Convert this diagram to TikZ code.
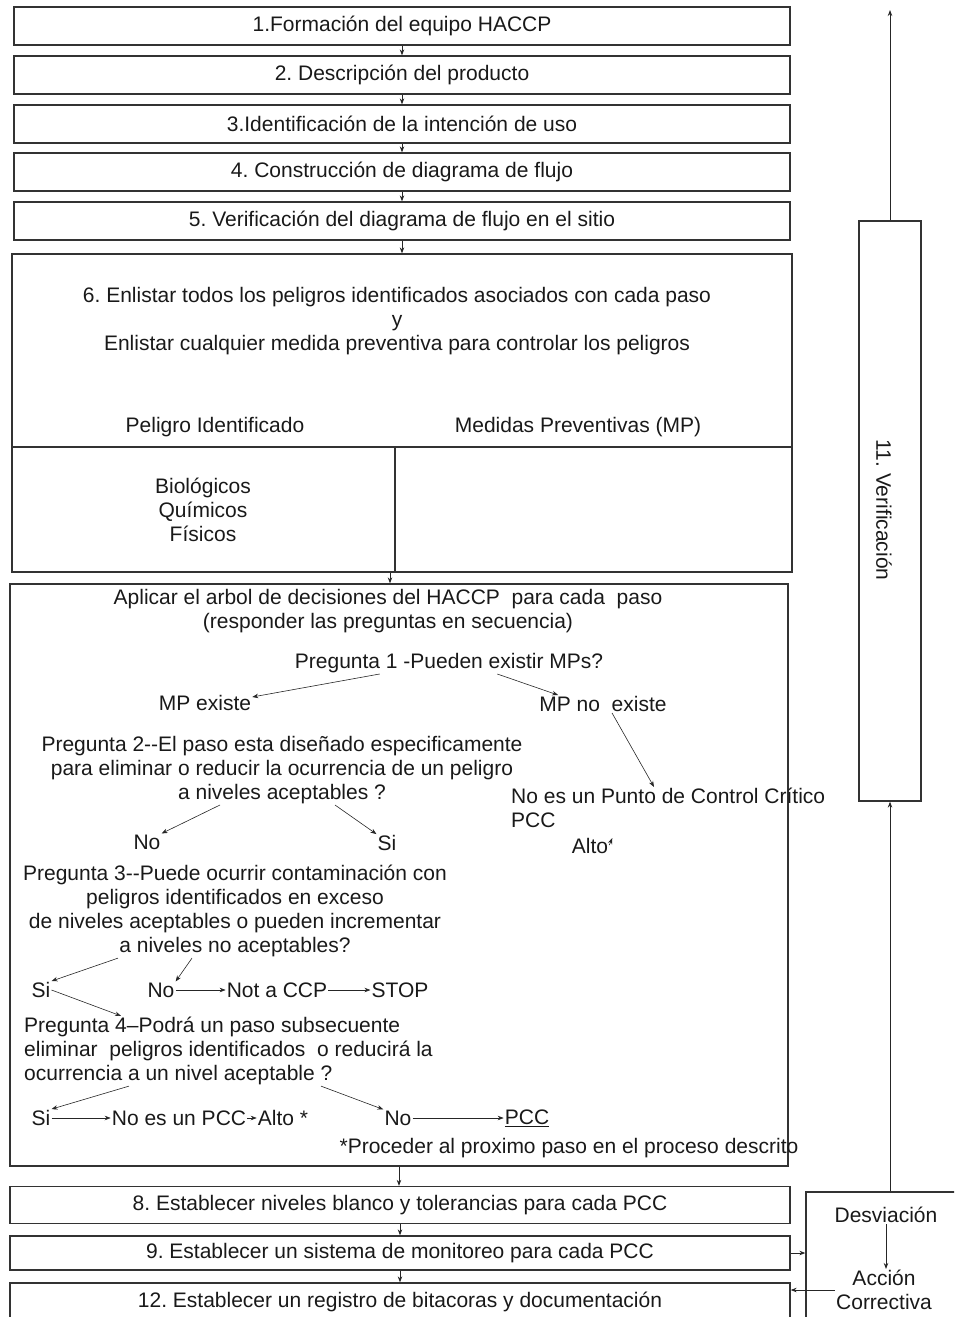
\documentclass[tikz,border=0pt]{standalone}
\usepackage{fontspec}
\setmainfont{Liberation Sans}
\usetikzlibrary{arrows.meta}
\frenchspacing

\begin{document}
\begin{tikzpicture}[x=1pt,y=-1pt]
    % Define styles
    \tikzstyle{stepbox}=[draw=black!80,line width=1.3pt,minimum width=776pt,minimum height=38pt,inner sep=0pt,text=black!90,font=\fontsize{21}{24}\selectfont]
    \tikzstyle{bigbox}=[draw=black!80,line width=1.3pt,inner sep=0pt]
    \tikzstyle{treetext}=[inner sep=1pt,text=black!90,font=\fontsize{21}{24}\selectfont]
    \tikzstyle{flowedge}=[thick,->,>={Stealth[length=6pt,width=4.5pt]},black!85]
    \tikzstyle{treeedge}=[semithick,->,>={Stealth[length=6pt,width=4.5pt]},black!85]

    \useasboundingbox (0,0) rectangle (954,1317);
    \clip (0,0) rectangle (954,1317);

    % Draw the steps
    \node[stepbox] (box1) at (402,26) {1.Formación del equipo HACCP};
    \node[stepbox] (box2) at (402,75) {2. Descripción del producto};
    \node[stepbox] (box3) at (402,124) {3.Identificación de la intención de uso};
    \node[stepbox] (box4) at (402,172) {4. Construcción de diagrama de flujo};
    \node[stepbox] (box5) at (402,221) {5. Verificación del diagrama de flujo en el sitio};
    \node[bigbox,minimum width=780pt,minimum height=318pt] (box6) at (402,413) {};
    \node[bigbox,minimum width=778pt,minimum height=582pt] (box7) at (399,875) {};
    \node[stepbox,minimum width=780pt,minimum height=37pt] (box8) at (400,1205) {8. Establecer niveles blanco y tolerancias para cada PCC};
    \node[stepbox,minimum width=780pt,minimum height=34pt] (box9) at (400,1253) {9. Establecer un sistema de monitoreo para cada PCC};
    \node[stepbox,minimum width=780pt,minimum height=50pt] (box12) at (400,1308) {};
    \node[treetext] at (400,1302) {12. Establecer un registro de bitacoras y documentación};

    % Inside step 6
    \coordinate (split) at (395,447);
    \draw[black!80,line width=1.3pt] (box6.west |- split) -- (box6.east |- split);
    \draw[black!80,line width=1.3pt] (split) -- (split |- box6.south);
    \node[treetext,align=center] (list) at (397,321) {6. Enlistar todos los peligros identificados asociados con cada paso\\y\\Enlistar cualquier medida preventiva para controlar los peligros};
    \node[treetext] (hazard) at (215,427) {Peligro Identificado};
    \node[treetext] (measure) at (578,427) {Medidas Preventivas (MP)};
    \node[treetext,align=center] (kinds) at (203,510) {Biológicos\\Químicos\\Físicos};

    % Decision tree
    \node[treetext,align=center] (tree) at (388,611) {Aplicar el arbol de decisiones del HACCP\ \ para cada\ \ paso\\(responder las preguntas en secuencia)};
    \node[treetext] (q1) at (449,663) {Pregunta 1 -Pueden existir MPs?};
    \node[treetext] (mpyes) at (205,703) {MP existe};
    \node[treetext] (mpno) at (603,704) {MP no\ \ existe};
    \node[treetext,align=center] (q2) at (282,770) {Pregunta 2-{}-El paso esta diseñado especificamente\\para eliminar o reducir la ocurrencia de un peligro\\a niveles aceptables ?};
    \node[treetext] (no2) at (147,842) {No};
    \node[treetext] (si2) at (387,843) {Si};
    \node[treetext,align=left,anchor=west] (nocp) at (510,808) {No es un Punto de Control Crítico\\PCC};
    \node[treetext] (alto1) at (590,846) {Alto};
    \node[treetext,align=center] (q3) at (235,911) {Pregunta 3-{}-Puede ocurrir contaminación con\\peligros identificados en exceso\\de niveles aceptables o pueden incrementar\\a niveles no aceptables?};
    \node[treetext] (si3) at (41,990) {Si};
    \node[treetext] (no3) at (161,990) {No};
    \node[treetext] (notccp) at (277,990) {Not a CCP};
    \node[treetext] (stop) at (400,990) {STOP};
    \node[treetext,align=left,anchor=west] (q4) at (23,1051) {Pregunta 4--Podrá un paso subsecuente\\eliminar\ \ peligros identificados\ \ o reducirá la\\ocurrencia a un nivel aceptable ?};
    \node[treetext] (si4) at (41,1118) {Si};
    \node[treetext] (nopcc) at (179,1118) {No es un PCC};
    \node[treetext] (alto2) at (283,1118) {Alto *};
    \node[treetext] (no4) at (398,1118) {No};
    \node[treetext] (pcc) at (527,1118) {\underline{PCC}};
    \node[treetext] (note) at (569,1148) {*Proceder al proximo paso en el proceso descrito};

    % Verification and correction
    \node[bigbox,minimum width=62pt,minimum height=580pt] (verif) at (890,511) {};
    \node[treetext,rotate=-90] (veriftext) at (884,510) {11. Verificación};
    \coordinate (top) at (890,10);
    \node[bigbox,minimum width=164pt,minimum height=150pt] (desv) at (888,1267) {};
    \node[treetext] (desvtext) at (886,1215) {Desviación};
    \node[treetext,align=center] (accion) at (884,1290) {Acción\\Correctiva};

    % Draw the edges
    \draw[flowedge] (box1.south) -- (box2.north);
    \draw[flowedge] (box2.south) -- (box3.north);
    \draw[flowedge] (box3.south) -- (box4.north);
    \draw[flowedge] (box4.south) -- (box5.north);
    \draw[flowedge] (box5.south) -- (box6.north);
    \draw[flowedge] ([xshift=-12pt]box6.south) -- ([xshift=-12pt]box6.south |- box7.north);
    \draw[flowedge] (box7.south) -- (box7.south |- box8.north);
    \draw[flowedge] (box8.south) -- (box9.north);
    \draw[flowedge] (box9.south) -- (box12.north);
    \draw[flowedge] (verif.north) -- (top);
    \draw[flowedge] (verif.south |- desv.north) -- (verif.south);
    \draw[flowedge] (box9.east) -- (box9.east -| desv.west);
    \draw[flowedge] (accion.west) -- (accion.west -| box12.east);
    \draw[flowedge] (desvtext.south) -- (desvtext.south |- accion.north);

    \draw[treeedge] ([xshift=86pt]q1.south west) -- ([yshift=6pt]mpyes.east);
    \draw[treeedge] ([xshift=-107pt]q1.south east) -- ([xshift=20pt]mpno.north west);
    \draw[treeedge] ([xshift=9pt]mpno.south) -- ([xshift=144pt]nocp.north west);
    \draw[treeedge] ([xshift=-62pt]q2.south) -- (no2.north east);
    \draw[treeedge] ([xshift=53pt]q2.south) -- (si2.north west);
    \draw[treeedge] ([yshift=-8pt]alto1.north east) -- ([xshift=3pt,yshift=-1pt]alto1.north east);
    \draw[treeedge] ([xshift=-117pt]q3.south) -- (si3.north east);
    \draw[treeedge] ([xshift=-43pt]q3.south) -- (no3.north east);
    \draw[treeedge] (no3.east) -- (notccp.west);
    \draw[treeedge] (notccp.east) -- (stop.west);
    \draw[treeedge] (si3.east) -- ([xshift=98pt]q4.north west);
    \draw[treeedge] ([xshift=106pt]q4.south west) -- (si4.north east);
    \draw[treeedge] ([xshift=298pt]q4.south west) -- (no4.north west);
    \draw[treeedge] (si4.east) -- (nopcc.west);
    \draw[treeedge] (nopcc.east) -- (alto2.west);
    \draw[treeedge] (no4.east) -- (pcc.west);
\end{tikzpicture}
\end{document}
